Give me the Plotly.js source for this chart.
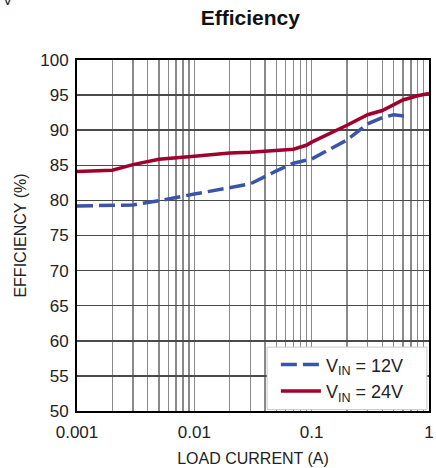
<!DOCTYPE html>
<html>
<head>
<meta charset="utf-8">
<script src="https://cdn.plot.ly/plotly-3.0.1.min.js"></script>
<style>
  html, body { margin: 0; padding: 0; background: #fff; }
  #chart { width: 436px; height: 468px; }
</style>
</head>
<body>
<div id="chart"></div>
<script>
// Data
const loadCurrent12 = [0.001, 0.002, 0.003, 0.004, 0.005, 0.01, 0.02, 0.03, 0.05, 0.07, 0.1, 0.2, 0.3, 0.4, 0.5, 0.63];
const efficiency12  = [79.2, 79.25, 79.35, 79.7, 79.95, 80.9, 81.85, 82.35, 84.2, 85.3, 85.9, 88.6, 90.9, 91.8, 92.2, 92.0];

const loadCurrent24 = [0.001, 0.002, 0.003, 0.004, 0.005, 0.01, 0.02, 0.03, 0.05, 0.07, 0.09, 0.1, 0.2, 0.3, 0.4, 0.5, 0.6, 0.8, 1.0];
const efficiency24  = [84.1, 84.3, 85.1, 85.55, 85.85, 86.3, 86.75, 86.85, 87.1, 87.3, 87.85, 88.3, 90.7, 92.2, 92.8, 93.6, 94.3, 94.9, 95.25];

const seriesNames = ["V<sub>IN</sub> = 12V", "V<sub>IN</sub> = 24V"];
const xTickVals  = [0.001, 0.01, 0.1, 1];
const xTickText  = ["0.001", "0.01", "0.1", "1"];
const minorMultipliers = [2, 3, 4, 5, 6, 7, 8, 9];

const FONT = "'Liberation Sans Narrow', 'Arial Narrow', 'Liberation Sans', Arial, sans-serif";

const xMinorVals = [];
xTickVals.slice(0, -1).forEach(d => minorMultipliers.forEach(m => xMinorVals.push(d * m)));

const traces = [
  {
    x: loadCurrent12, y: efficiency12, name: seriesNames[0],
    type: "scatter", mode: "lines",
    line: { color: "#3a55a8", width: 3.5, dash: "16px,6px" }
  },
  {
    x: loadCurrent24, y: efficiency24, name: seriesNames[1],
    type: "scatter", mode: "lines",
    line: { color: "#a0002d", width: 3.5 }
  }
];

const layout = {
  width: 436, height: 468,
  margin: { l: 77, r: 7, t: 60, b: 57 },
  paper_bgcolor: "#ffffff",
  plot_bgcolor: "#ffffff",
  font: { family: FONT, size: 16, color: "#222" },
  showlegend: true,
  title: {
    text: "<b>Efficiency</b>",
    font: { family: FONT, size: 21, color: "#111" },
    x: 0.574, xanchor: "center",
    y: 0.962, yanchor: "middle"
  },
  xaxis: {
    type: "log",
    range: [-3, 0],
    tickmode: "array",
    tickvals: xTickVals,
    ticktext: xTickText,
    ticks: "",
    ticklabelstandoff: 5,
    showgrid: true,
    gridcolor: "#8a8a8a",
    gridwidth: 1.5,
    minor: { tickmode: "array", tickvals: xMinorVals, showgrid: true, gridcolor: "#8a8a8a", gridwidth: 1.5, ticks: "" },
    showline: true, mirror: true, linecolor: "#000", linewidth: 2,
    zeroline: false,
    tickfont: { family: FONT, size: 17, color: "#222" },
    title: { text: "LOAD CURRENT (A)", font: { family: FONT, size: 16, color: "#222" }, standoff: 11 }
  },
  yaxis: {
    range: [50, 100],
    dtick: 5,
    tick0: 50,
    ticks: "",
    ticklabelstandoff: 3,
    showgrid: true,
    gridcolor: "#4a4a4a",
    gridwidth: 1.5,
    showline: true, mirror: true, linecolor: "#000", linewidth: 2,
    zeroline: false,
    tickfont: { family: FONT, size: 17, color: "#222" },
    title: { text: "EFFICIENCY (%)", font: { family: FONT, size: 16, color: "#222" }, standoff: 10 }
  },
  shapes: [
    {
      type: "rect", xref: "paper", yref: "paper", layer: "above",
      x0: 0.54, x1: 0.994, y0: 0.004, y1: 0.182,
      fillcolor: "#ffffff", line: { color: "#c8c8c8", width: 1 }
    }
  ],
  legend: {
    x: 0.565, xanchor: "left",
    y: 0.184, yanchor: "top",
    bgcolor: "rgba(0,0,0,0)",
    borderwidth: 0,
    font: { family: FONT, size: 18, color: "#222" },
    tracegroupgap: 0,
    itemwidth: 40
  },
  annotations: [
    {
      text: "V", xref: "paper", yref: "paper",
      x: -0.216, y: 1.142, xanchor: "left", yanchor: "bottom",
      showarrow: false, font: { family: FONT, size: 14, color: "#222" }
    }
  ]
};

Plotly.newPlot("chart", traces, layout, { displayModeBar: false, staticPlot: true });
</script>
</body>
</html>
